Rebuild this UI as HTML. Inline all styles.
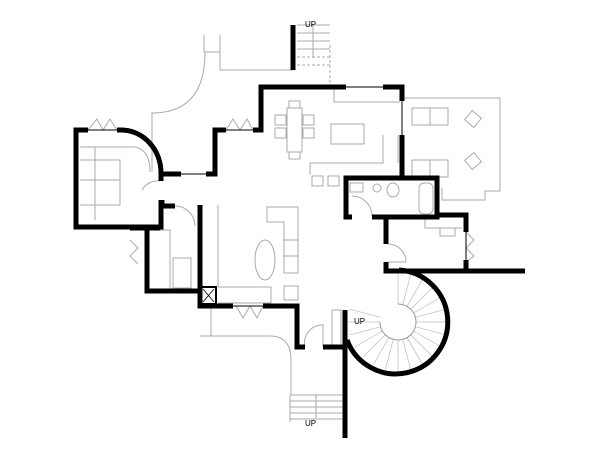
<!DOCTYPE html>
<html><head><style>body{margin:0;background:#fff}svg{display:block}</style></head><body>
<svg width="600" height="460" viewBox="0 0 600 460" xmlns="http://www.w3.org/2000/svg">
<g fill="none" stroke="#aaa" stroke-width="1">
<path d="M204,35 V52 M220,35 V70 H293 M204,52 H220"/>
<path d="M205,52 Q205,113 152,113 V172"/>
<path d="M297,25 H330 M297,33 H330 M297,41 H330 M297,49 H330 M313,25 V58"/>
<path d="M297,57 H330 M297,65 H330 M330,45 V87" stroke-dasharray="3,2"/>
<path d="M80,147 H135 Q150,150 150,172 M80,160 H120 V205 H80 M80,180 H120 M95,147 V220"/>
<path d="M142,190 A18,18 0 0 1 160,181 M175,206 A20,20 0 0 1 195,226" />
<path d="M334,87 V102 H400"/>
<rect x="331" y="124" width="33" height="20"/>
<path d="M383,135 V163 H310 V175 M398,135 V163"/>
<rect x="287" y="108" width="15" height="44"/>
<rect x="289" y="101" width="11" height="7"/><rect x="289" y="152" width="11" height="7"/>
<rect x="275" y="115" width="11" height="10"/><rect x="275" y="128" width="11" height="10"/>
<rect x="303" y="115" width="11" height="10"/><rect x="303" y="128" width="11" height="10"/>
<rect x="312" y="176" width="11" height="10"/><rect x="328" y="176" width="11" height="10"/>
<path d="M402,98 H500 V191 H485 V200 H442 V188"/>
<rect x="412" y="108" width="36" height="17"/><line x1="430" y1="108" x2="430" y2="125"/>
<rect x="412" y="160" width="36" height="17"/><line x1="430" y1="160" x2="430" y2="177"/>
<rect x="467" y="113" width="12" height="12" transform="rotate(40 473 119)"/>
<rect x="467" y="155" width="12" height="12" transform="rotate(-40 473 161)"/>
<rect x="350" y="183" width="13" height="9"/>
<circle cx="377" cy="188" r="4"/><ellipse cx="393" cy="190" rx="6" ry="7"/>
<rect x="419" y="183" width="14" height="31" rx="5"/>
<path d="M352,196 A20,20 0 0 1 372,216"/>
<path d="M425,218 V228 H462 M440,228 V236 H455 V228" />
<path d="M388,244 A18,18 0 0 1 406,262 M388,262 H406"/>
<path d="M218,205 V287 M218,287 H271 V303 M218,303 H271"/>
<path d="M267,207 H298 V273 H284 V222 H267 Z M284,240 H298 M284,256 H298"/>
<ellipse cx="265" cy="260" rx="10" ry="20"/>
<rect x="284" y="286" width="14" height="14"/>
<rect x="173" y="258" width="18" height="30"/>
<path d="M305,347 A18,18 0 0 1 323,325 V347 M332,310 H341 V347 M332,310 V345"/>
<path d="M150,230 H170 V290 M130,240 L138,248 L130,256 M130,256 L138,264"/>
<path d="M236,306 L243,318 L250,306 L257,318 L263,306"/>
<path d="M88,130 L97,119 L103,130 L110,119 L117,130 M226,130 L233,119 L240,130 L247,119 L253,130"/>
<path d="M466,232 L474,240 L466,248 L474,256 L466,262"/>
<path d="M211,306 V336 M200,336 H270 Q291,336 291,360 V395"/>
<path d="M290,395 H343 M290,401 H343 M290,407 H343 M290,413 H343 M290,419 H343 M290,395 V422 M316,395 V418"/>
<g stroke="#bbb" stroke-width="0.7">
<line x1="398" y1="304" x2="398" y2="272" transform="rotate(0 398 322)"/>
<line x1="398" y1="304" x2="398" y2="272" transform="rotate(15 398 322)"/>
<line x1="398" y1="304" x2="398" y2="272" transform="rotate(30 398 322)"/>
<line x1="398" y1="304" x2="398" y2="272" transform="rotate(45 398 322)"/>
<line x1="398" y1="304" x2="398" y2="272" transform="rotate(60 398 322)"/>
<line x1="398" y1="304" x2="398" y2="272" transform="rotate(75 398 322)"/>
<line x1="398" y1="304" x2="398" y2="272" transform="rotate(90 398 322)"/>
<line x1="398" y1="304" x2="398" y2="272" transform="rotate(105 398 322)"/>
<line x1="398" y1="304" x2="398" y2="272" transform="rotate(120 398 322)"/>
<line x1="398" y1="304" x2="398" y2="272" transform="rotate(135 398 322)"/>
<line x1="398" y1="304" x2="398" y2="272" transform="rotate(150 398 322)"/>
<line x1="398" y1="304" x2="398" y2="272" transform="rotate(165 398 322)"/>
<line x1="398" y1="304" x2="398" y2="272" transform="rotate(180 398 322)"/>
<line x1="398" y1="304" x2="398" y2="272" transform="rotate(195 398 322)"/>
<line x1="398" y1="304" x2="398" y2="272" transform="rotate(210 398 322)"/>
<line x1="398" y1="304" x2="398" y2="272" transform="rotate(225 398 322)"/>
<line x1="398" y1="304" x2="398" y2="272" transform="rotate(240 398 322)"/>
<line x1="398" y1="304" x2="398" y2="272" transform="rotate(255 398 322)"/>
<line x1="398" y1="304" x2="398" y2="272" transform="rotate(270 398 322)"/>
<line x1="398" y1="304" x2="398" y2="272" transform="rotate(285 398 322)"/>
</g>
<path d="M398,304 A18,18 0 1 1 380,322" stroke="#999"/>
</g>
<g fill="none" stroke="#000" stroke-width="5" stroke-linejoin="miter">
<path d="M88,130 H76 V227 H161 V200 M161,181 V173"/>
<path d="M117,130 H122 A40,43 0 0 1 161,173"/>
<path d="M161,174 H181 M206,174 H215 V130 H226 M253,130 H261 V87 H346"/>
<path d="M383,87 H402 V101 M402,135 V178"/>
<path d="M352,178 H437 V217 H372 M352,217 H346 V178 H352"/>
<path d="M437,215 H466 V232 M466,260 V272"/>
<path d="M386,217 V244 M386,262 V271 H525"/>
<path d="M162,200 V206 H175 M147,227 V291 H200 M130,228 H160"/>
<path d="M200,205 V306 H233 M263,306 H297 V347 H305 M323,347 H345"/>
<path d="M345,310 V438"/>
<path d="M399,270 A52,52 0 1 1 347,340"/>
<path d="M293,25 V70"/>
</g>
<rect x="201" y="287" width="15" height="17" fill="none" stroke="#000" stroke-width="2"/>
<path d="M203,289 L214,302 M214,289 L203,302" stroke="#000" stroke-width="0.8"/>
<g fill="none" stroke="#000" stroke-width="1">
<path d="M181,174 H206 M233,306 H263 M346,87 H383 M402,101 V135 M466,232 V260 M88,130 H117 M226,130 H253"/>
</g>
<g font-family="Liberation Sans, sans-serif" font-size="8" fill="#000">
<text x="305" y="27">UP</text>
<text x="354" y="324">UP</text>
<text x="305" y="426">UP</text>
</g>
</svg>
</body></html>
